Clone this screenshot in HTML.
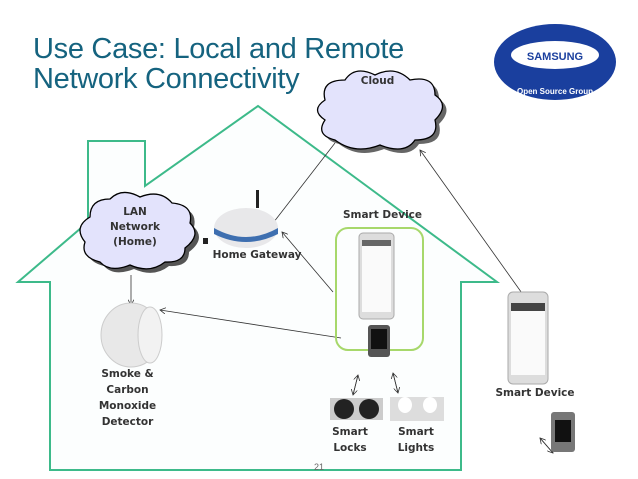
<!DOCTYPE html>
<html><head><style>
body{margin:0;width:638px;height:479px;background:#fff;position:relative;overflow:hidden;font-family:"DejaVu Sans","Liberation Sans",sans-serif}
.t{position:absolute;font-family:"Liberation Sans",sans-serif;color:#15637f;font-size:29px;line-height:30px;left:33px;letter-spacing:-0.3px}
.l{position:absolute;font-weight:bold;font-size:10.5px;color:#333;text-align:center;line-height:16px}
</style></head><body>
<svg width="638" height="479" style="position:absolute;left:0;top:0">
<defs><marker id="a" markerWidth="8" markerHeight="8" refX="7" refY="4" orient="auto"><path d="M0,0 L7,4 L0,8" fill="none" stroke="#333" stroke-width="1"/></marker></defs>
<path d="M50,470 L50,282 L18,282 L88,222 L88,141 L145,141 L145,186 L258,106 L497,282 L461,282 L461,470 Z" fill="#fcfefe" stroke="#3dba8a" stroke-width="2"/>
<ellipse cx="555" cy="62" rx="61" ry="38" fill="#1a3f9e"/>
<ellipse cx="555" cy="55" rx="44" ry="14" fill="#fff"/>
<text x="555" y="60" font-size="11" font-weight="bold" fill="#1a3f9e" text-anchor="middle" font-family="Liberation Sans">SAMSUNG</text>
<text x="555" y="94" font-size="8" fill="#fff" text-anchor="middle" font-family="Liberation Sans" font-weight="bold">Open Source Group</text>
<g stroke="#000" stroke-width="1.3" fill="#e3e3fc">
<g transform="translate(0,-10)">
<path d="M335,150 q-20,-5 -10,-20 q-15,-10 0,-20 q-5,-20 20,-20 q10,-15 30,-5 q20,-10 35,5 q25,-5 25,15 q15,10 0,25 q5,20 -20,20 q-10,15 -35,5 q-25,10 -45,-5z" transform="translate(4,4)" fill="#666" stroke="none"/>
<path d="M335,150 q-20,-5 -10,-20 q-15,-10 0,-20 q-5,-20 20,-20 q10,-15 30,-5 q20,-10 35,5 q25,-5 25,15 q15,10 0,25 q5,20 -20,20 q-10,15 -35,5 q-25,10 -45,-5z"/>
</g>
<path d="M100,262 q-20,-5 -15,-20 q-12,-15 5,-25 q0,-18 20,-18 q12,-12 30,-2 q20,-8 32,6 q22,2 18,20 q12,12 -5,25 q0,15 -20,14 q-15,12 -35,3 q-20,8 -30,-3z" transform="translate(4,4)" fill="#555" stroke="none"/>
<path d="M100,262 q-20,-5 -15,-20 q-12,-15 5,-25 q0,-18 20,-18 q12,-12 30,-2 q20,-8 32,6 q22,2 18,20 q12,12 -5,25 q0,15 -20,14 q-15,12 -35,3 q-20,8 -30,-3z"/>
</g>
<g stroke="#333" stroke-width="0.8" fill="none">
<line x1="335" y1="143" x2="263" y2="236" marker-end="url(#a)"/>
<line x1="524" y1="296" x2="420" y2="150" marker-end="url(#a)"/>
<line x1="333" y1="292" x2="282" y2="232" marker-end="url(#a)"/>
<line x1="341" y1="338" x2="160" y2="310" marker-end="url(#a)"/>
<line x1="131" y1="275" x2="131" y2="305" marker-end="url(#a)"/>
<line x1="353" y1="395" x2="358" y2="375" marker-end="url(#a)"/>
<line x1="358" y1="375" x2="353" y2="395" marker-end="url(#a)"/>
<line x1="393" y1="373" x2="398" y2="393" marker-end="url(#a)"/>
<line x1="398" y1="393" x2="393" y2="373" marker-end="url(#a)"/>
<line x1="540" y1="438" x2="553" y2="453" marker-end="url(#a)"/>
<line x1="553" y1="453" x2="540" y2="438" marker-end="url(#a)"/>
</g>
<rect x="203" y="238" width="5" height="6" fill="#222"/>
<rect x="336" y="228" width="87" height="122" rx="12" fill="none" stroke="#a7d86b" stroke-width="2"/>
<rect x="256" y="190" width="3" height="18" fill="#222"/>
<ellipse cx="246" cy="228" rx="32" ry="20" fill="#e8e8ea"/>
<path d="M214,228 q32,18 64,0 v6 q-32,16 -64,0z" fill="#3e6fb0"/>
<rect x="359" y="233" width="35" height="86" rx="4" fill="#ddd" stroke="#aaa"/>
<rect x="362" y="240" width="29" height="72" fill="#fafafa"/>
<rect x="362" y="240" width="29" height="6" fill="#666"/>
<rect x="368" y="325" width="22" height="32" rx="3" fill="#555"/>
<rect x="371" y="329" width="16" height="20" fill="#111"/>
<ellipse cx="131" cy="335" rx="30" ry="32" fill="#e8e8e8" stroke="#ccc"/>
<ellipse cx="150" cy="335" rx="12" ry="28" fill="#f2f2f2" stroke="#ccc"/>
<rect x="330" y="398" width="53" height="22" fill="#ccc"/>
<circle cx="344" cy="409" r="10" fill="#222"/><circle cx="369" cy="409" r="10" fill="#222"/>
<rect x="390" y="397" width="54" height="24" fill="#ddd"/>
<ellipse cx="405" cy="405" rx="7" ry="8" fill="#fff"/><ellipse cx="430" cy="405" rx="7" ry="8" fill="#fff"/>
<rect x="508" y="292" width="40" height="92" rx="5" fill="#ddd" stroke="#aaa"/>
<rect x="511" y="303" width="34" height="72" fill="#fafafa"/>
<rect x="511" y="303" width="34" height="8" fill="#444"/>
<rect x="551" y="412" width="24" height="40" rx="3" fill="#777"/>
<rect x="555" y="420" width="16" height="22" fill="#111"/>
<text x="319" y="470" font-size="9" fill="#666" text-anchor="middle" font-family="Liberation Sans">21</text>
</svg>
<div class="t" style="top:34px">Use Case: Local and Remote<br>Network Connectivity</div>
<div class="l" style="left:350px;top:73px;width:55px">Cloud</div>
<div class="l" style="left:95px;top:205px;width:80px;line-height:15px">LAN<br>Network<br>(Home)</div>
<div class="l" style="left:205px;top:247px;width:104px">Home Gateway</div>
<div class="l" style="left:330px;top:207px;width:105px">Smart Device</div>
<div class="l" style="left:75px;top:366px;width:105px">Smoke &amp;<br>Carbon<br>Monoxide<br>Detector</div>
<div class="l" style="left:320px;top:424px;width:60px">Smart<br>Locks</div>
<div class="l" style="left:386px;top:424px;width:60px">Smart<br>Lights</div>
<div class="l" style="left:485px;top:385px;width:100px">Smart Device</div>
</body></html>
